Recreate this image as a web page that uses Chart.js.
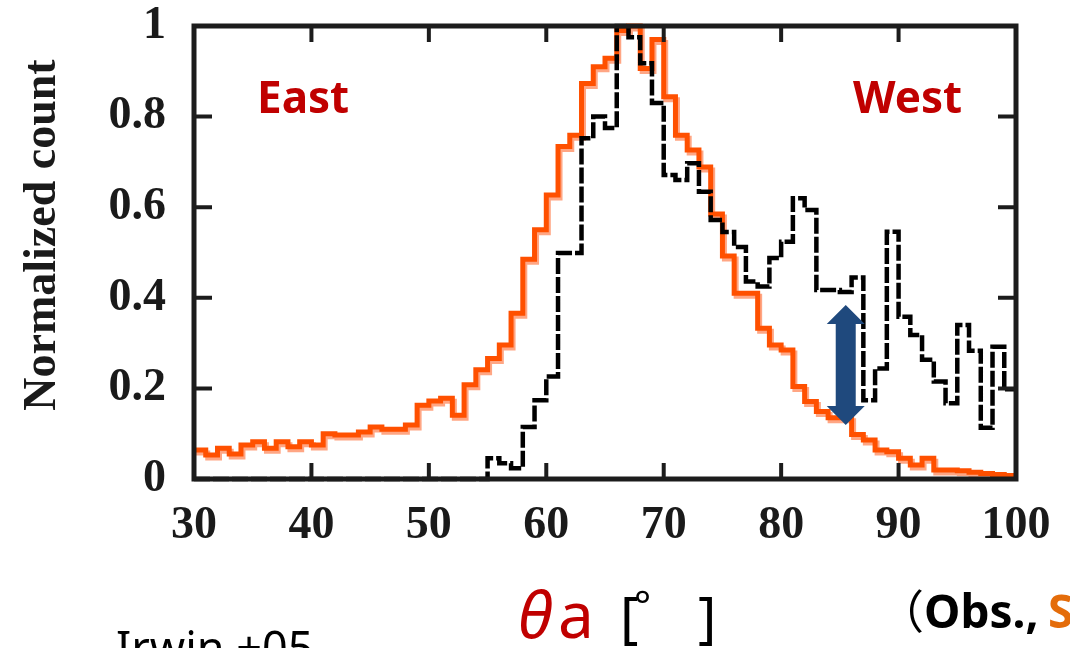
<!DOCTYPE html>
<html>
<head>
<meta charset="utf-8">
<script src="https://cdn.jsdelivr.net/npm/chart.js@4.4.1/dist/chart.umd.min.js"></script>
<style>
  body { margin: 0; background: #fff; }
  #wrap { width: 1070px; height: 648px; position: relative; }
</style>
</head>
<body>
<div id="wrap"><canvas id="angle-chart"></canvas></div>
<script>
// bin edges in degrees (1 degree bins, last entry closes the final bin)
const binEdges = [30, 31, 32, 33, 34, 35, 36, 37, 38, 39,
                  40, 41, 42, 43, 44, 45, 46, 47, 48, 49,
                  50, 51, 52, 53, 54, 55, 56, 57, 58, 59,
                  60, 61, 62, 63, 64, 65, 66, 67, 68, 69,
                  70, 71, 72, 73, 74, 75, 76, 77, 78, 79,
                  80, 81, 82, 83, 84, 85, 86, 87, 88, 89,
                  90, 91, 92, 93, 94, 95, 96, 97, 98, 99, 100];

// simulation (orange)
const simCounts = [0.064, 0.053, 0.068, 0.055, 0.075, 0.082, 0.068, 0.082, 0.071, 0.082,
                   0.075, 0.100, 0.097, 0.097, 0.104, 0.115, 0.110, 0.110, 0.119, 0.163,
                   0.172, 0.178, 0.141, 0.208, 0.241, 0.266, 0.296, 0.366, 0.485, 0.550,
                   0.627, 0.734, 0.759, 0.873, 0.910, 0.929, 0.990, 1.000, 0.906, 0.970,
                   0.844, 0.759, 0.726, 0.689, 0.585, 0.492, 0.410, 0.410, 0.333, 0.296,
                   0.285, 0.204, 0.171, 0.149, 0.135, 0.135, 0.098, 0.086, 0.064, 0.060,
                   0.046, 0.031, 0.046, 0.020, 0.020, 0.018, 0.015, 0.012, 0.010, 0.008];

// observations (black dashed)
const obsCounts = [0, 0, 0, 0, 0, 0, 0, 0, 0, 0,
                   0, 0, 0, 0, 0, 0, 0, 0, 0, 0,
                   0, 0, 0, 0, 0, 0.046, 0.035, 0.024, 0.115, 0.174,
                   0.226, 0.499, 0.499, 0.752, 0.800, 0.775, 1.000, 0.975, 0.918, 0.830,
                   0.671, 0.660, 0.697, 0.634, 0.572, 0.545, 0.512, 0.436, 0.425, 0.488,
                   0.524, 0.620, 0.594, 0.417, 0.417, 0.413, 0.445, 0.174, 0.244, 0.546,
                   0.358, 0.318, 0.263, 0.215, 0.167, 0.340, 0.283, 0.113, 0.292, 0.198];

const xTickLabels = ['30', '40', '50', '60', '70', '80', '90', '100'];
const yTickLabels = ['0', '0.2', '0.4', '0.6', '0.8', '1'];

// double arrow marking the gap (angle, upper tip, lower tip)
const gapArrow = [85.5, 0.384, 0.119];

function toSteps(counts) {
    return binEdges.map((edge, i) => ({ x: edge, y: counts[Math.min(i, counts.length - 1)] }));
}

const serifBold = { family: "'Liberation Serif', 'DejaVu Serif', serif", size: 46, weight: 'bold' };

const overlay = {
    id: 'overlay',
    beforeDatasetDraw(chart, args) {
        if (args.index === 1) {                 // light halo under the orange line
            const c = chart.ctx;
            c.save();
            c.shadowColor = 'rgba(255,150,110,0.85)';
            c.shadowOffsetX = 2;
            c.shadowOffsetY = 3;
            c.shadowBlur = 0;
        }
    },
    afterDatasetDraw(chart, args) {
        if (args.index === 1) chart.ctx.restore();
    },
    afterDraw(chart) {
        const c = chart.ctx;
        const a = chart.chartArea;
        const xs = chart.scales.x, ys = chart.scales.y;
        c.save();

        // frame
        c.strokeStyle = '#1c1c1c';
        c.lineWidth = 5;
        c.strokeRect(a.left, a.top, a.right - a.left, a.bottom - a.top);

        // inward ticks
        c.lineWidth = 4;
        c.beginPath();
        xs.ticks.forEach(t => {
            if (t.value <= 30 || t.value >= 100) return;
            const px = xs.getPixelForValue(t.value);
            c.moveTo(px, a.top); c.lineTo(px, a.top + 16);
            c.moveTo(px, a.bottom); c.lineTo(px, a.bottom - 16);
        });
        ys.ticks.forEach(t => {
            if (t.value <= 0 || t.value >= 1) return;
            const py = ys.getPixelForValue(t.value);
            c.moveTo(a.left, py); c.lineTo(a.left + 18, py);
            c.moveTo(a.right, py); c.lineTo(a.right - 18, py);
        });
        c.stroke();

        // double arrow
        const ax = xs.getPixelForValue(gapArrow[0]);
        const yTop = ys.getPixelForValue(gapArrow[1]);
        const yBot = ys.getPixelForValue(gapArrow[2]);
        const head = 19, halfHead = 19, halfShaft = 10;
        c.fillStyle = '#1f497d';
        c.beginPath();
        c.moveTo(ax, yTop);
        c.lineTo(ax + halfHead, yTop + head);
        c.lineTo(ax + halfShaft, yTop + head);
        c.lineTo(ax + halfShaft, yBot - head);
        c.lineTo(ax + halfHead, yBot - head);
        c.lineTo(ax, yBot);
        c.lineTo(ax - halfHead, yBot - head);
        c.lineTo(ax - halfShaft, yBot - head);
        c.lineTo(ax - halfShaft, yTop + head);
        c.lineTo(ax - halfHead, yTop + head);
        c.closePath();
        c.fill();

        // labels inside the plot
        c.fillStyle = '#c00000';
        c.font = "bold 44px 'Noto Sans', 'Open Sans', sans-serif";
        c.textBaseline = 'alphabetic';
        c.textAlign = 'left';
        c.fillText('East', 257, 113);
        c.fillText('West', 853, 113);

        // y axis title
        c.save();
        c.translate(55, 235);
        c.rotate(-Math.PI / 2);
        c.fillStyle = '#1a1a1a';
        c.textAlign = 'center';
        c.font = "bold 46px 'Liberation Serif', 'DejaVu Serif', serif";
        c.fillText('Normalized count', 0, 0);
        c.restore();

        // x axis title
        c.fillStyle = '#c00000';
        c.font = "italic 64px 'Noto Sans', 'Open Sans', sans-serif";
        c.fillText('θ', 518, 638);
        c.font = "64px 'Noto Sans', 'Open Sans', sans-serif";
        c.fillText('a', 558, 638);
        c.fillStyle = '#000';
        c.font = "56px 'Noto Sans', 'Open Sans', sans-serif";
        c.fillText('[', 620, 638);
        c.fillText(']', 698, 638);
        c.font = "40px 'Noto Sans', 'Open Sans', sans-serif";
        c.fillText('°', 634, 620);

        // side notes
        c.font = "46px 'Noto Sans CJK JP', sans-serif";
        c.fillText('（', 878, 628);
        c.font = "bold 46px 'Noto Sans', 'Open Sans', sans-serif";
        c.fillText('Obs.,', 924, 628);
        c.fillStyle = '#e46c0a';
        c.fillText('S', 1048, 628);
        c.fillStyle = '#000';
        c.font = "45px 'Noto Sans', 'Open Sans', sans-serif";
        c.fillText('Irwin +05', 116, 664);

        c.restore();
    }
};

const angleChartCanvas = document.querySelector('#angle-chart');

new Chart(angleChartCanvas.getContext('2d'), {
    type: 'line',
    data: {
        datasets: [{
            label: 'Obs.',
            data: toSteps(obsCounts),
            stepped: true,
            borderColor: '#000',
            borderWidth: 4.5,
            borderDash: [16, 3],
            pointRadius: 0,
            fill: false,
            clip: 6
        }, {
            label: 'Sim.',
            data: toSteps(simCounts),
            stepped: true,
            borderColor: '#ff5000',
            borderWidth: 5,
            pointRadius: 0,
            fill: false,
            clip: 6
        }]
    },
    options: {
        responsive: true,
        maintainAspectRatio: false,
        animation: false,
        layout: { padding: { top: 26, right: 54, left: 0, bottom: 0 } },
        plugins: { legend: { display: false }, tooltip: { enabled: false } },
        scales: {
            x: {
                type: 'linear',
                min: 30,
                max: 100,
                grid: { display: false, drawTicks: false },
                border: { display: false },
                ticks: {
                    stepSize: 10,
                    maxRotation: 0,
                    padding: 20,
                    color: '#1a1a1a',
                    font: serifBold,
                    callback: v => xTickLabels[Math.round((v - 30) / 10)]
                },
                afterFit: s => { s.height = 169; s.paddingLeft = 0; s.paddingRight = 0; }
            },
            y: {
                min: 0,
                max: 1,
                grid: { display: false, drawTicks: false },
                border: { display: false },
                ticks: {
                    stepSize: 0.2,
                    padding: 28,
                    color: '#1a1a1a',
                    font: serifBold,
                    callback: v => yTickLabels[Math.round(v * 5)]
                },
                afterFit: s => { s.width = 194; s.paddingTop = 0; s.paddingBottom = 0; }
            }
        }
    },
    plugins: [overlay]
});
</script>
</body>
</html>
